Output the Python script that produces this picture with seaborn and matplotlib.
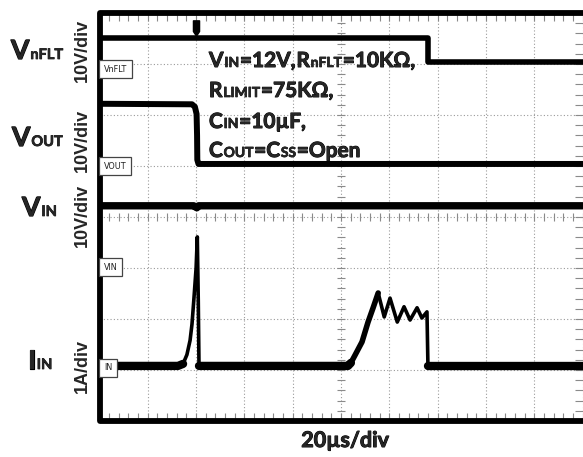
import numpy as np
import pandas as pd
import seaborn as sns
import matplotlib
matplotlib.use("Agg")
import matplotlib.pyplot as plt
import matplotlib.patheffects as pe
from matplotlib.path import Path
from matplotlib.lines import Line2D

# ---------------- data (time in us, 20 us/div; traces in screen divisions) -------------
t_nflt = [0.0, 136.0, 136.0, 200.0]
y_nflt = [7.51, 7.51, 7.04, 7.04]

t_vout = [0.0, 38.3, 39.5, 40.2, 40.4, 40.5, 41.0, 200.0]
y_vout = [6.22, 6.21, 6.16, 6.02, 5.60, 5.12, 5.04, 5.04]

t_vin = [0.0, 39.0, 40.3, 41.0, 200.0]
y_vin = [4.22, 4.22, 4.18, 4.22, 4.22]

t_iin = [0.0, 32.5, 34.6, 36.2, 37.5, 38.3, 39.1, 40.0, 40.5, 40.9, 41.2,
         102.9, 104.1, 105.8, 108.7, 111.2, 113.3, 115.4,
         117.9, 120.3, 123.3, 126.1, 128.6, 131.5, 133.5, 135.6, 136.0, 200.0]
y_iin = [1.08, 1.08, 1.12, 1.30, 1.58, 1.90, 2.40, 3.00, 3.61, 2.37, 1.08,
         1.08, 1.14, 1.29, 1.55, 1.94, 2.22, 2.51,
         2.04, 2.41, 1.94, 2.24, 1.98, 2.22, 2.02, 2.14, 1.08, 1.08]

t_trig = [40.0]
y_trig = [7.70]

scale_labels = ["10V/div", "10V/div", "10V/div", "1A/div"]
time_label = "20\u00b5s/div"

# ---------------- figure ----------------
sns.set_style("white")
fam = ["Lato", "DejaVu Sans"]
plt.rcParams["font.family"] = fam

W, H = 583, 457
fig = plt.figure(figsize=(W / 100, H / 100), dpi=100)
ax = fig.add_axes([99.5 / W, 36 / H, 483 / W, 408 / H])
ax.set_xlim(0, 200)
ax.set_ylim(0, 8)
for s in ax.spines.values():
    s.set_visible(False)

# graticule
ax.set_xticks(np.arange(0, 201, 20))
ax.set_yticks(np.arange(0, 9, 1))
ax.tick_params(length=0, labelbottom=False, labelleft=False)
ax.grid(True, color="#9a9a9a", lw=0.8, ls=(0, (1, 2)))
ax.set_axisbelow(True)
gx = np.arange(0, 200.1, 4)
gy = np.arange(0, 8.01, 0.2)
tc = "#8a8a8a"
ax.plot(gx, np.full_like(gx, 4.0), ls="none", marker="|", ms=6, mew=0.8, color=tc, zorder=1)
ax.plot(np.full_like(gy, 100.0), gy, ls="none", marker="_", ms=6, mew=0.8, color=tc, zorder=1)
ax.plot(gx, np.full_like(gx, 0.0), ls="none", marker=2, ms=6, mew=0.8, color=tc, zorder=1)
ax.plot(gx, np.full_like(gx, 8.0), ls="none", marker=3, ms=6, mew=0.8, color=tc, zorder=1)
ax.plot(np.full_like(gy, 200.0), gy, ls="none", marker=0, ms=6, mew=0.8, color=tc, zorder=1, clip_on=False)

# frame (left, top, bottom) with rounded corners
frame = Line2D([1.02, 0, 0, 1.02], [1, 1, 0, 0], transform=ax.transAxes, color="black",
               lw=4.2, solid_joinstyle="round", clip_on=False, zorder=5)
ax.add_line(frame)

# traces
kw = dict(ax=ax, color="black", estimator=None, sort=False, legend=False)
sns.lineplot(x=t_nflt, y=y_nflt, lw=4.0, **kw)
sns.lineplot(x=t_vout, y=y_vout, lw=4.3, **kw)
sns.lineplot(x=t_vin, y=y_vin, lw=5.3, **kw)
sns.lineplot(x=t_iin, y=y_iin, lw=2.6, **kw)
iin = pd.DataFrame({"t": t_iin, "y": y_iin})
base = iin[iin["y"] <= 1.15].copy()
base["seg"] = (base.index.to_series().diff() != 1).cumsum()
sns.lineplot(data=base, x="t", y="y", units="seg", lw=6.0, **kw)
hump = iin[(iin["t"] >= 102.9) & (iin["t"] <= 115.4)]
sns.lineplot(data=hump, x="t", y="y", lw=4.0, **kw)

trig = Path([(-0.2, 0.5), (0.2, 0.5), (0.2, -0.2), (0.0, -0.5), (-0.2, -0.2), (-0.2, 0.5)],
            [Path.MOVETO, Path.LINETO, Path.LINETO, Path.LINETO, Path.LINETO, Path.CLOSEPOLY])
ax.plot(t_trig, y_trig, ls="none", marker=trig, ms=11, color="black", zorder=6)

# ---------------- text ----------------
renderer = fig.canvas.get_renderer()


def rich(x_px, y_px, parts, gap=0.4):
    x = x_px
    for s, size in parts:
        sw = 0.045 * size
        t = fig.text(x / W, 1 - y_px / H, s, fontsize=size, family=fam, weight="bold",
                     ha="left", va="baseline", zorder=10,
                     path_effects=[pe.withStroke(linewidth=sw, foreground="black")])
        x += t.get_window_extent(renderer).width + gap + sw * 100 / 72 * 0.5


big, small = 19, 10.5
rich(11, 59, [("V", big), ("nFLT", small)])
rich(12, 146, [("V", big), ("OUT", small)])
rich(22, 216, [("V", big), ("IN", small)])
rich(28, 369, [("I", big), ("IN", small)])

B, S = 15, 10
rich(209, 67, [("V", B), ("IN", S), ("=12V,", B), ("R", B), ("nFLT", S), ("=10K\u03a9,", B)])
rich(209, 97, [("R", B), ("LIMIT", S), ("=75K\u03a9,", B)])
rich(209, 128, [("C", B), ("IN", S), ("=10\u00b5F,", B)])
rich(209, 157, [("C", B), ("OUT", S), ("=C", B), ("SS", S), ("=Open", B)])

for lab, yc in zip(scale_labels, [50, 140, 215, 366]):
    fig.text(82 / W, 1 - yc / H, lab, rotation=90, ha="center", va="center",
             fontsize=13, family=["Liberation Sans", "DejaVu Sans"], weight="bold")

fig.text(345 / W, 1 - 447 / H, time_label, ha="center", va="baseline",
         fontsize=15.5, family=fam, weight="bold",
         path_effects=[pe.withStroke(linewidth=0.7, foreground="black")])

# channel tags inside the screen
for lab, yc in zip(["VnFLT", "VOUT", "VIN", "IN"], [69, 166, 267, 368]):
    fig.text(104 / W, 1 - yc / H, lab, ha="left", va="center", fontsize=6.5,
             family=["DejaVu Sans"], stretch="condensed",
             color="#222222", zorder=10,
             bbox=dict(boxstyle="square,pad=0.5", fc="white", ec="#444444", lw=0.9))

fig.savefig("out.png", dpi=100)
